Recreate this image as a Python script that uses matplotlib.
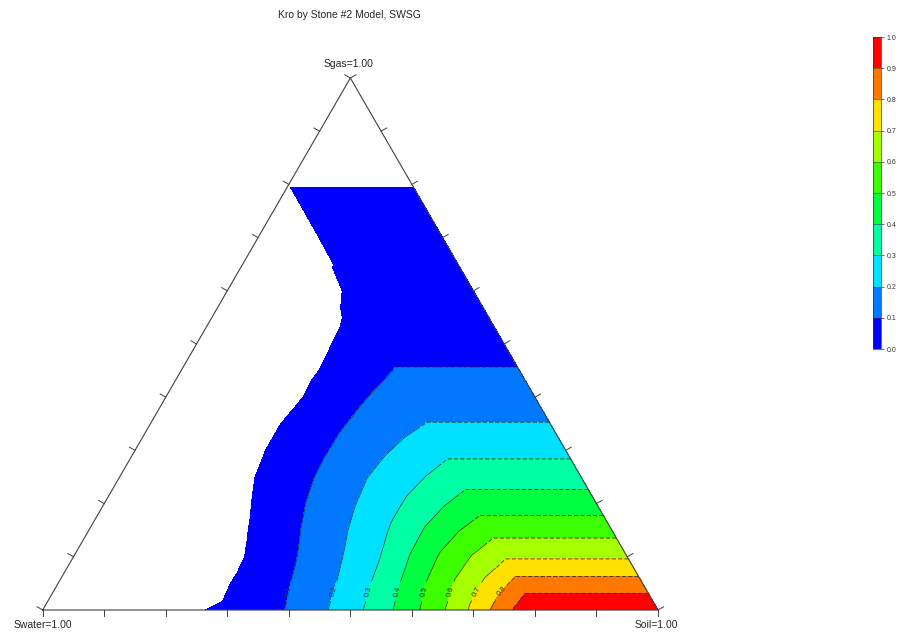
import numpy as np
import matplotlib
matplotlib.use('Agg')
import matplotlib.pyplot as plt
import matplotlib.tri as mtri
from matplotlib.patches import Polygon

plt.rcParams['font.family'] = ['Liberation Sans', 'DejaVu Sans']
plt.rcParams['lines.scale_dashes'] = False

# Kro on a 0.05 saturation lattice.
# For Sw <= Swc (0.2) Kro depends on Sg only: one value per Sg row.
# Negative numbers mark no oil flow and are left blank.
sat_step = 0.05
swc = 0.2
kro_swc = [1.0, 0.840, 0.688, 0.563, 0.45, 0.355, 0.274, 0.203, 0.153, 0.105,
           0.068, 0.041, 0.022, 0.010, 0.004, 0.0015, -0.0002, -0.01, -0.01, -0.01, -0.01]

# rows by Sg (0.00, 0.05, ...), columns Sw = 0.25, 0.30, ... up to 1 - Sg
kro_sg000 = [0.864, 0.724, 0.590, 0.469, 0.357, 0.259, 0.178, 0.108, 0.051, 0.012,
             -0.005, -0.03, -0.06, -0.09, -0.12, -0.15]
kro_sg005 = [0.728, 0.618, 0.506, 0.387, 0.283, 0.197, 0.128, 0.065, 0.017, -0.026,
             -0.06, -0.09, -0.12, -0.15, -0.18]
kro_sg010 = [0.609, 0.518, 0.410, 0.302, 0.217, 0.148, 0.082, 0.022, -0.028, -0.06,
             -0.09, -0.12, -0.15, -0.18]
kro_sg015 = [0.4955, 0.413, 0.322, 0.241, 0.170, 0.107, 0.046, -0.01, -0.05, -0.08,
             -0.11, -0.14, -0.17]
kro_sg020 = [0.391, 0.322, 0.254, 0.1875, 0.128, 0.066, 0.010, -0.037, -0.07, -0.10,
             -0.13, -0.16]
kro_sg025 = [0.304, 0.250, 0.196, 0.139, 0.080, 0.027, -0.018, -0.06, -0.09, -0.12, -0.15]
kro_sg030 = [0.231, 0.186, 0.136, 0.084, 0.034, -0.011, -0.05, -0.08, -0.11, -0.14]
kro_sg035 = [0.167, 0.128, 0.083, 0.034, -0.0105, -0.05, -0.08, -0.11, -0.14]
kro_sg040 = [0.1185, 0.075, 0.025, -0.021, -0.05, -0.08, -0.11, -0.14]
kro_sg045 = [0.062, 0.020, -0.018, -0.05, -0.08, -0.11, -0.14]
kro_sg050 = [0.025, -0.016, -0.05, -0.08, -0.11, -0.14]
kro_sg055 = [-0.013, -0.05, -0.08, -0.11, -0.14]
kro_sg060 = [-0.061, -0.09, -0.12, -0.15]
kro_sg065 = [-0.19, -0.2, -0.2]
kro_sg070 = [-0.2, -0.2]
kro_sg075 = [-0.2]
kro_rows = [kro_sg000, kro_sg005, kro_sg010, kro_sg015, kro_sg020, kro_sg025,
            kro_sg030, kro_sg035, kro_sg040, kro_sg045, kro_sg050, kro_sg055,
            kro_sg060, kro_sg065, kro_sg070, kro_sg075]

levels = [0.0, 0.1, 0.2, 0.3, 0.4, 0.5, 0.6, 0.7, 0.8, 0.9, 1.0]
level_colors = ['#0000FF', '#0078FF', '#00E1FF', '#00FFA5', '#00FF40',
                '#3CFF00', '#A5FF00', '#FFE100', '#FF7800', '#FF0000']

title = 'Kro by Stone #2 Model, SWSG'
corner_labels = ['Swater=1.00', 'Soil=1.00', 'Sgas=1.00']

# lattice points -> ternary x/y
h = np.sqrt(3) / 2
n = len(kro_swc) - 1
n_swc = int(round(swc / sat_step))
sw, sg, kro, index = [], [], [], {}
for i in range(n + 1):
    for j in range(n - i + 1):
        if j <= n_swc:
            v = kro_swc[i]
        else:
            v = kro_rows[i][j - n_swc - 1]
        index[(i, j)] = len(kro)
        sw.append(j * sat_step)
        sg.append(i * sat_step)
        kro.append(v)
sw = np.array(sw); sg = np.array(sg); kro = np.array(kro)
so = 1 - sw - sg
xt = so + sg / 2
yt = sg * h

triangles = []
for i in range(n):
    for j in range(n - i):
        triangles.append([index[(i, j)], index[(i, j + 1)], index[(i + 1, j)]])
        if j <= n - i - 2:
            triangles.append([index[(i, j + 1)], index[(i + 1, j + 1)], index[(i + 1, j)]])
tri = mtri.Triangulation(xt, yt, triangles)

fig = plt.figure(figsize=(9.02, 6.33), dpi=100)
ax = fig.add_axes([42.7 / 902, 1 - 610 / 633, 615.3 / 902, 532 / 633])
ax.set_xlim(0, 1)
ax.set_ylim(0, h)
ax.axis('off')

cf = ax.tricontourf(tri, kro, levels=levels, colors=level_colors)

# contour lines: solid on the curved part, dashed where Sw < Swc (flat part)
x_swc0 = 1 - swc
flat_zone = Polygon([(x_swc0, -0.05), (1.1, -0.05), (0.5, h + 0.05), (x_swc0 / 2, (1 - swc) * h)],
                    closed=True, transform=ax.transData)
curved_zone = Polygon([(-0.1, -0.05), (x_swc0, -0.05), (x_swc0 / 2, (1 - swc) * h), (0.5, h + 0.05)],
                      closed=True, transform=ax.transData)
cs = ax.tricontour(tri, kro, levels=levels[1:-1], colors='#303030', linewidths=0.5)
cs.set_clip_path(curved_zone)
cs_flat = ax.tricontour(tri, kro, levels=levels[1:-1], colors='#303030', linewidths=0.6,
                        linestyles=[(0, (3, 1.5))])
cs_flat.set_clip_path(flat_zone)

# contour labels just above the Sg=0 edge, on the curved part (Sw > Swc)
y_lab = 0.035 * h
spots = []
for lev, path in zip(cs.levels, cs.get_paths()):
    v = path.vertices
    best = None
    for k in range(len(v) - 1):
        y0, y1 = v[k, 1], v[k + 1, 1]
        if (y0 - y_lab) * (y1 - y_lab) <= 0 and y0 != y1:
            f = (y_lab - y0) / (y1 - y0)
            px = v[k, 0] + f * (v[k + 1, 0] - v[k, 0])
            if 1 - px - y_lab / (2 * h) > swc + 0.01:
                if best is None or px < best[0]:
                    best = (px, y_lab)
    if best is not None:
        spots.append(best)
ax.clabel(cs, manual=spots, fontsize=5.5, inline=True, fmt='%.1f', colors='#303030')

# triangle frame
edge_col = '#404040'
ax.plot([0, 1, 0.5, 0], [0, 0, h, 0], color=edge_col, lw=0.8, clip_on=False)

# ticks, perpendicular and outward on each edge
L = 0.0105
for k in range(11):
    t = k / 10
    ax.plot([t, t], [0, -L], color=edge_col, lw=0.7, clip_on=False)
    px, py = 1 - t / 2, t * h
    ax.plot([px, px + L * h], [py, py + L * 0.5], color=edge_col, lw=0.7, clip_on=False)
    px, py = t / 2, t * h
    ax.plot([px, px - L * h], [py, py + L * 0.5], color=edge_col, lw=0.7, clip_on=False)

txt_col = '#262626'
ax.annotate(corner_labels[0], xy=(0, 0), xytext=(0, -15), textcoords='offset pixels',
            ha='center', va='center', fontsize=7.5, color=txt_col)
ax.annotate(corner_labels[1], xy=(1, 0), xytext=(-2, -15), textcoords='offset pixels',
            ha='center', va='center', fontsize=7.5, color=txt_col)
ax.annotate(corner_labels[2], xy=(0.5, h), xytext=(-2, 14), textcoords='offset pixels',
            ha='center', va='center', fontsize=7.5, color=txt_col)

fig.text(349 / 902, 1 - 15 / 633, title, ha='center', va='center', fontsize=7.5, color=txt_col)

# colour bar
cax = fig.add_axes([873 / 902, 1 - 349 / 633, 8 / 902, 312 / 633])
cb = fig.colorbar(cf, cax=cax, ticks=levels, drawedges=True)
cb.ax.set_yticklabels([f'{v:.1f}' for v in levels])
cb.ax.tick_params(labelsize=5, length=2, width=0.5, colors='#333333', pad=2)
cb.outline.set_linewidth(0.5)
cb.outline.set_edgecolor('#333333')
cb.dividers.set_color('#333333')
cb.dividers.set_linewidth(0.4)

fig.savefig('out.png', dpi=100)
